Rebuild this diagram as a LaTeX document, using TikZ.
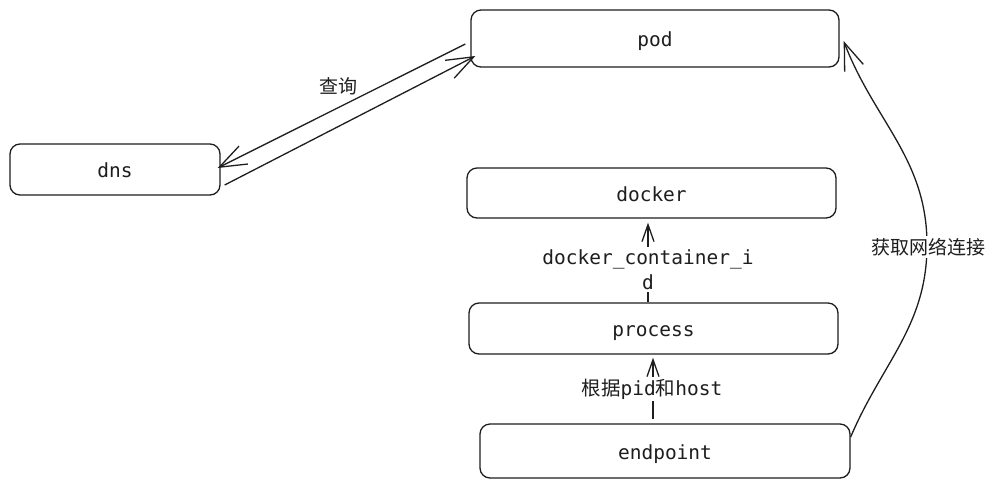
\documentclass[tikz,border=0pt]{standalone}
\usepackage{fontspec}
\setmonofont{DejaVu Sans Mono}
\newfontfamily\cjk{Noto Sans CJK SC}
\usetikzlibrary{arrows.meta,calc}
\definecolor{ink}{HTML}{1E1E1E}
\begin{document}
\begin{tikzpicture}[x=1pt,y=1pt,
  box/.style={draw=ink,line width=1.3pt,rounded corners=10pt,inner sep=0pt,
    text height=20pt,text depth=4pt,
    font=\ttfamily\fontsize{19.5}{25}\selectfont,text=ink},
  lbl/.style={fill=white,inner sep=2pt,text=ink,font=\ttfamily\fontsize{19.5}{25}\selectfont,align=center},
  bigarr/.style={draw=ink,line width=1.3pt,-{Straight Barb[length=27pt,width=20pt,line width=1.3pt]}},
  smallarr/.style={draw=ink,line width=1.3pt,-{Straight Barb[length=17pt,width=12pt,line width=1.3pt]}}]
\useasboundingbox (0,0) rectangle (998,-488);
\fill[white] (0,0) rectangle (998,-488);
\node[box,minimum width=368pt,minimum height=57pt] (pod) at (655,-38.5) {pod};
\node[box,minimum width=210pt,minimum height=51pt] (dns) at (115,-169.5) {dns};
\node[box,minimum width=369pt,minimum height=50pt] (docker) at (651.5,-193) {docker};
\node[box,minimum width=369pt,minimum height=51pt] (process) at (653.5,-328.5) {process};
\node[box,minimum width=370pt,minimum height=54pt] (endpoint) at (665,-451) {endpoint};
% pod <-> dns
\coordinate (q1s) at ([shift={(-5,-5.5)}]pod.west);
\coordinate (q1e) at ([shift={(-3,1.5)}]dns.east);
\coordinate (q2s) at ([shift={(4,-15.5)}]dns.east);
\coordinate (q2e) at ([shift={(5,-17.5)}]pod.west);
\draw[bigarr] (q1s) -- (q1e);
\draw[bigarr] (q2s) -- (q2e);
\node[text=ink,font=\cjk\fontsize{19}{25}\selectfont] (qlabel) at (338,-86) {查询};
% process -> docker
\coordinate (d1s) at ([xshift=-5.5pt]process.north);
\coordinate (d1e) at ([shift={(-3.5,-4)}]docker.south);
\draw[smallarr] (d1s) -- (d1e);
\node[lbl] (dlabel) at (648,-269.5) {docker\_container\_i\\d};
% endpoint -> process
\coordinate (p1s) at ([shift={(-12,4)}]endpoint.north);
\coordinate (p1e) at ([shift={(-0.5,-3)}]process.south);
\draw[smallarr] (p1s) -- (p1e);
\node[lbl] (plabel) at (652,-389) {{\cjk 根据}pid{\cjk 和}host};
% endpoint -> pod curve
\coordinate (c1s) at ([shift={(0,14)}]endpoint.east);
\coordinate (cmid) at (927,-245);
\coordinate (c1e) at ([shift={(4,-2.5)}]pod.east);
\draw[bigarr] (c1s) to[out=67,in=-90] (cmid) to[out=90,in=-69] (c1e);
\node[lbl,font=\cjk\fontsize{19}{25}\selectfont] (clabel) at (928,-247) {获取网络连接};
\end{tikzpicture}
\end{document}
